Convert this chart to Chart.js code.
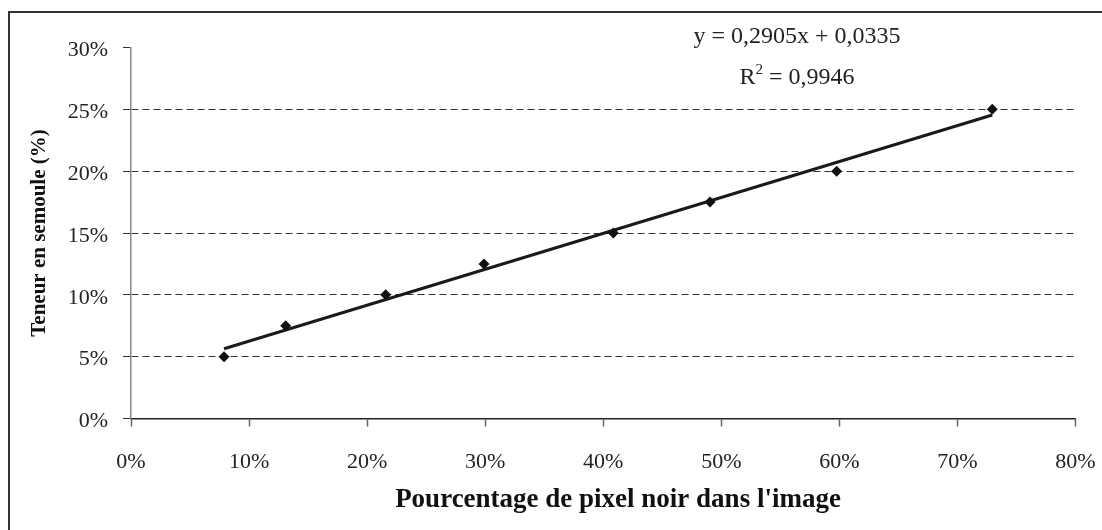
<!DOCTYPE html>
<html>
<head>
<meta charset="utf-8">
<script src="https://cdn.jsdelivr.net/npm/chart.js@4.4.1/dist/chart.umd.min.js"></script>
<style>
  html, body { margin: 0; padding: 0; background: #fff; overflow: hidden; }
  #frame {
    position: absolute; left: 8px; top: 11px; width: 1200px; height: 600px;
    border-top: 2px solid #333; border-left: 2px solid #333;
  }
  #wrap { position: absolute; left: 0; top: 0; width: 1102px; height: 530px; }
</style>
</head>
<body>
<div id="frame"></div>
<div id="wrap"><canvas id="teneurChart"></canvas></div>
<script>
// Mesures : pourcentage de pixels noirs vs teneur en semoule
const pixelNoir = [0.0788, 0.131, 0.2157, 0.299, 0.4085, 0.4904, 0.5977, 0.7295]
const teneurSemoule = [0.05, 0.075, 0.10, 0.125, 0.15, 0.175, 0.20, 0.25]

// Droite de régression affichée
const pente = 0.2905
const ordonnee = 0.0335
const r2 = 0.9946

const xTitre = 'Pourcentage de pixel noir dans l\'image'
const yTitre = 'Teneur en semoule (%)'

const fr = (v) => v.toFixed(4).replace('.', ',')

const points = pixelNoir.map((x, i) => ({ x: x, y: teneurSemoule[i] }))
const xMin = Math.min(...pixelNoir)
const xMax = Math.max(...pixelNoir)
const tendance = [
    { x: xMin, y: pente * xMin + ordonnee },
    { x: xMax, y: pente * xMax + ordonnee }
]

const pct = (v) => Math.round(v * 100) + '%'

// équation + titre de l'axe X
const textes = {
    id: 'textes',
    afterDraw(chart) {
        const { ctx } = chart
        const cx = 797
        ctx.save()
        ctx.fillStyle = '#222'
        ctx.textBaseline = 'middle'
        ctx.font = '24px "Liberation Serif"'
        ctx.textAlign = 'center'
        ctx.fillText('y = ' + fr(pente) + 'x + ' + fr(ordonnee), cx, 37)

        const r = 'R'
        const reste = ' = ' + fr(r2)
        const wR = ctx.measureText(r).width
        const wReste = ctx.measureText(reste).width
        ctx.font = '15px "Liberation Serif"'
        const wSup = ctx.measureText('2').width
        let x = cx - (wR + wSup + wReste) / 2
        ctx.textAlign = 'left'
        ctx.font = '24px "Liberation Serif"'
        ctx.fillText(r, x, 78)
        x += wR
        ctx.font = '15px "Liberation Serif"'
        ctx.fillText('2', x, 70)
        x += wSup
        ctx.font = '24px "Liberation Serif"'
        ctx.fillText(reste, x, 78)

        ctx.fillStyle = '#111'
        ctx.textAlign = 'center'
        ctx.font = 'bold 27px "Liberation Serif"'
        ctx.fillText(xTitre, 618, 500)
        ctx.restore()
    }
}

const chart = new Chart(document.getElementById('teneurChart'), {
    type: 'scatter',
    data: {
        datasets: [{
            label: 'Teneur',
            data: points,
            pointStyle: 'rectRot',
            pointRadius: 5.5,
            backgroundColor: '#111',
            borderColor: '#111',
            borderWidth: 0
        }, {
            type: 'line',
            label: 'Linéaire',
            data: tendance,
            borderColor: '#1a1a1a',
            borderWidth: 3,
            pointRadius: 0,
            fill: false
        }]
    },
    options: {
        responsive: true,
        maintainAspectRatio: false,
        animation: false,
        layout: { padding: { left: 0, right: 26.5, top: 47.5, bottom: 0 } },
        plugins: {
            legend: { display: false },
            tooltip: { enabled: false }
        },
        scales: {
            x: {
                type: 'linear',
                min: 0,
                max: 0.8,
                afterFit: (s) => {
                    s.height = 111.5
                    s.paddingLeft = 0
                    s.paddingRight = 0
                },
                ticks: {
                    stepSize: 0.1,
                    padding: 23,
                    color: '#222',
                    font: { family: 'Liberation Serif', size: 22 },
                    callback: pct
                },
                grid: {
                    drawOnChartArea: false,
                    drawTicks: true,
                    tickLength: 8,
                    tickColor: '#666',
                    tickWidth: 1.5
                },
                border: { color: '#222', width: 1.5 },
                title: { display: false }
            },
            y: {
                min: 0,
                max: 0.3,
                afterFit: (s) => {
                    s.width = 131
                    s.paddingTop = 0
                    s.paddingBottom = 0
                },
                ticks: {
                    stepSize: 0.05,
                    padding: 15,
                    labelOffset: 3,
                    color: '#222',
                    font: { family: 'Liberation Serif', size: 22 },
                    callback: pct
                },
                grid: {
                    color: (c) => (c.tick && (c.tick.value < 0.001 || c.tick.value > 0.299)) ? 'rgba(0,0,0,0)' : '#333',
                    lineWidth: 1,
                    tickLength: 8,
                    tickColor: '#333',
                    tickWidth: 1
                },
                border: { color: '#888', width: 1.5, dash: [7, 4] },
                title: {
                    display: true,
                    text: yTitre,
                    color: '#111',
                    font: { family: 'Liberation Serif', size: 21, weight: 'bold' },
                    padding: { top: 27, bottom: 0 }
                }
            }
        }
    },
    plugins: [textes]
})
</script>
</body>
</html>
